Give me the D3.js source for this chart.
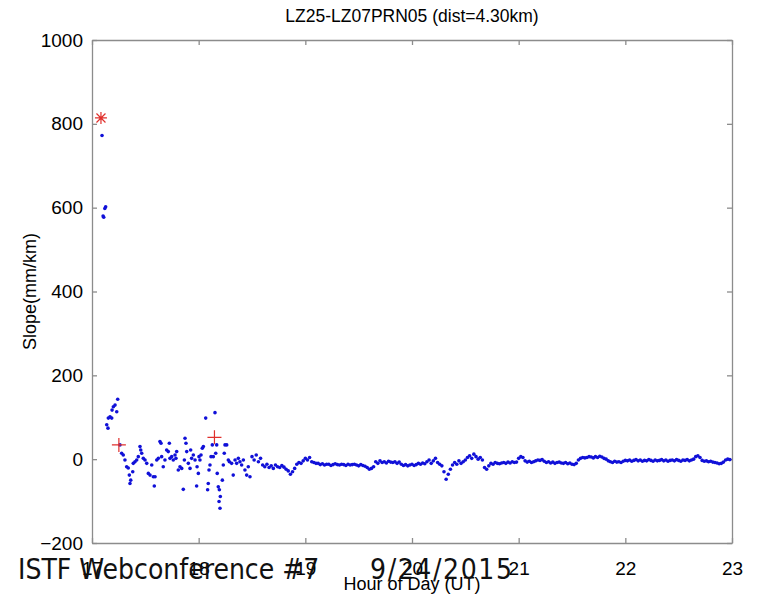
<!DOCTYPE html>
<html>
<head>
<meta charset="utf-8">
<script src="https://cdn.jsdelivr.net/npm/d3@7"></script>
<style>
  body { margin: 0; background: #fff; }
  svg { display: block; }
</style>
</head>
<body>
<div id="chart"></div>
<script>
// scattered samples at the start of the pass (hour, slope)
var earlyHours = [17.094, 17.104, 17.110, 17.120, 17.128,
    17.138, 17.150, 17.153, 17.169, 17.185, 17.188, 17.200, 17.216, 17.232, 17.241,
    17.262, 17.278, 17.293, 17.309, 17.325, 17.340, 17.350, 17.356, 17.363, 17.382,
    17.387, 17.403, 17.419, 17.434, 17.450, 17.457, 17.466, 17.481, 17.497, 17.513,
    17.528, 17.544, 17.560, 17.575, 17.584, 17.591, 17.607, 17.622, 17.637, 17.647,
    17.653, 17.668, 17.684, 17.700, 17.715, 17.725, 17.731, 17.747, 17.762, 17.778,
    17.787, 17.794, 17.809, 17.825, 17.841, 17.856, 17.866, 17.872, 17.881, 17.888,
    17.903, 17.919, 17.925, 17.934, 17.950, 17.966, 17.981, 17.985, 17.997, 18.003,
    18.012, 18.022, 18.034, 18.044, 18.066, 18.084, 18.090, 18.097, 18.106, 18.116,
    18.128, 18.137, 18.153, 18.160, 18.169, 18.174, 18.184, 18.191, 18.194, 18.200,
    18.203, 18.222, 18.231, 18.240, 18.247, 18.263, 18.278, 18.288, 18.309, 18.324,
    18.341, 18.356, 18.372, 18.387, 18.403, 18.419, 18.434, 18.450, 18.465, 18.481];
var earlySlopes = [772, 580, 577, 598, 602,
    82, 74, 98, 101, 98, 117, 125, 129, 113, 143,
    34, 14, 10, -2, -18, -21, -38, -58, -50, -30,
    -10, -6, -2, 6, 30, 22, 14, 2, -2, -10,
    -34, -38, -14, -42, -64, -42, -2, 2, 42, 38,
    6, -18, -2, 22, 18, 38, 2, 6, -2, 10,
    2, 18, -26, -18, -22, -72, -2, 50, 38, 18,
    -10, -22, 22, 2, 10, -2, -64, -18, -34, 6,
    -2, 10, 26, 30, 98, -73, -58, -26, -14, 6,
    34, 6, 111, 14, 34, -34, -66, -101, -73, -117,
    -89, -50, -14, 14, 34, 34, -2, -6, -10, -38,
    -2, -10, 2, -6, -14, -2, -26, -38, -18, -42];

// steady part of the pass
var lateHours = [
    18.50, 18.52, 18.54, 18.56, 18.58, 18.60, 18.62, 18.64, 18.66, 18.68,
    18.70, 18.72, 18.74, 18.76, 18.78, 18.80, 18.82, 18.84, 18.86, 18.88,
    18.90, 18.92, 18.94, 18.96, 18.98,
    19.00, 19.02, 19.04, 19.06, 19.08, 19.10, 19.12, 19.14, 19.16, 19.18,
    19.20, 19.22, 19.24, 19.26, 19.28, 19.30, 19.32, 19.34, 19.36, 19.38,
    19.40, 19.42, 19.44, 19.46, 19.48, 19.50, 19.52, 19.54, 19.56, 19.58,
    19.60, 19.62, 19.64, 19.66, 19.68, 19.70, 19.72, 19.74, 19.76, 19.78,
    19.80, 19.82, 19.84, 19.86, 19.88, 19.90, 19.92, 19.94, 19.96, 19.98,
    20.00, 20.02, 20.04, 20.06, 20.08, 20.10, 20.12, 20.14, 20.16, 20.18,
    20.20, 20.22, 20.24, 20.26, 20.28, 20.30, 20.32, 20.34, 20.36, 20.38,
    20.40, 20.42, 20.44, 20.46, 20.48, 20.50, 20.52, 20.54, 20.56, 20.58,
    20.60, 20.62, 20.64, 20.66, 20.68, 20.70, 20.72, 20.74, 20.76, 20.78,
    20.80, 20.82, 20.84, 20.86, 20.88, 20.90, 20.92, 20.94, 20.96, 20.98,
    21.00, 21.02, 21.04, 21.06, 21.08, 21.10, 21.12, 21.14, 21.16, 21.18,
    21.20, 21.22, 21.24, 21.26, 21.28, 21.30, 21.32, 21.34, 21.36, 21.38,
    21.40, 21.42, 21.44, 21.46, 21.48, 21.50, 21.52, 21.54, 21.56, 21.58,
    21.60, 21.62, 21.64, 21.66, 21.68, 21.70, 21.72, 21.74, 21.76, 21.78,
    21.80, 21.82, 21.84, 21.86, 21.88, 21.90, 21.92, 21.94, 21.96, 21.98,
    22.00, 22.02, 22.04, 22.06, 22.08, 22.10, 22.12, 22.14, 22.16, 22.18,
    22.20, 22.22, 22.24, 22.26, 22.28, 22.30, 22.32, 22.34, 22.36, 22.38,
    22.40, 22.42, 22.44, 22.46, 22.48, 22.50, 22.52, 22.54, 22.56, 22.58,
    22.60, 22.62, 22.64, 22.66, 22.68, 22.70, 22.72, 22.74, 22.76, 22.78,
    22.80, 22.82, 22.84, 22.86, 22.88, 22.90, 22.92, 22.94, 22.96, 22.98];
var lateSlopes = [
    6, -2, 10, -6, 2,
    -14, -18, -12, -20, -16, -22, -14, -18, -20, -15, -19, -24,
    -28, -36, -30, -22,
    -12, -8, -10, -4, 2, -2, 4, -6, -8, -10,
    -10, -13, -11, -14, -12, -12, -15, -13, -11, -13, -14, -12, -13, -15, -12, -14, -13, -12, -14, -16, -13, -15, -17,
    -20, -24, -22, -18,
    -6, -10, -4, -8, -6, -9, -5, -7, -8, -6, -10, -7,
    -12, -15, -13, -16, -14, -12, -15, -13, -10, -12, -9, -11,
    -6, -2, -10, -4, 2, -8, -12, -16,
    -30, -48, -36, -24,
    -14, -8, -12, -4, -10, -6, -2,
    4, 8, 2, 12, 6, 0, 4, -2,
    -20, -24, -16,
    -10, -12, -8, -10, -11, -9, -8, -10, -7, -9, -6, -8, -7,
    2, 6, 4,
    -4, -7, -5, -8, -6, -4,
    -2, -3, -1,
    -5, -8, -6, -9, -7, -10, -8, -7, -9, -10, -8, -11, -9,
    -12, -13, -10,
    -2, 2, 4, 3,
    4, 6, 5, 3, 6, 4, 7, 5, 2, 0,
    -4, -6, -8, -5, -7, -6,
    -8, -5, -3, -4, -2, -5, -3, -1, -4, -2, -5, -3, -4, -1, -3, -5, -2, -4, -3, -1, -4, -2, -5, -3, -2, -4, -1, -3, -5, -2, -3, -1, -4, -2, 0,
    6, 8, 4,
    -3, -5, -4, -6, -5, -7, -8,
    -9, -11, -10, -7,
    -2, 0, -1];

// flagged epochs (red markers)
var starHours = [17.084];
var starSlopes = [814];
var plusHours = [17.252, 18.148];
var plusSlopes = [34, 52];

var xTicks = [17, 18, 19, 20, 21, 22, 23];
var yTicks = [-200, 0, 200, 400, 600, 800, 1000];

function init(){

    var w = 759;
    var h = 594;
    var left = 92, right = 732, top = 40, bottom = 543;
    var font = "Liberation Sans, Arial, sans-serif";

    var xScale = d3.scaleLinear()
                    .domain([17, 23])
                    .range([left, right]);
    var yScale = d3.scaleLinear()
                    .domain([-200, 1000])
                    .range([bottom, top]);

    var svg = d3.select("#chart")
                .append("svg")
                .attr("width", w)
                .attr("height", h);

    var axisColor = "#8c8c8c";

    //frame with ticks on all four sides, pointing inwards
    var xAxisG = svg.append("g")
        .attr("transform", "translate(0," + bottom + ")")
        .call(d3.axisBottom(xScale).tickValues(xTicks).tickSizeInner(-5).tickSizeOuter(0).tickFormat(d3.format("d")))
        .call(styleAxis);
    svg.append("g")
        .attr("transform", "translate(0," + top + ")")
        .call(d3.axisTop(xScale).tickValues(xTicks).tickSizeInner(-5).tickSizeOuter(0).tickFormat(""))
        .call(styleAxis);
    var yAxisG = svg.append("g")
        .attr("transform", "translate(" + left + ",0)")
        .call(d3.axisLeft(yScale).tickValues(yTicks).tickSizeInner(-5).tickSizeOuter(0).tickFormat(d3.format("d")))
        .call(styleAxis);
    svg.append("g")
        .attr("transform", "translate(" + right + ",0)")
        .call(d3.axisRight(yScale).tickValues(yTicks).tickSizeInner(-5).tickSizeOuter(0).tickFormat(""))
        .call(styleAxis);

    function styleAxis(g) {
        g.select(".domain").attr("stroke", axisColor).attr("stroke-width", 1.3);
        g.selectAll(".tick line").attr("stroke", axisColor).attr("stroke-width", 1.3);
        g.selectAll(".tick text")
            .attr("fill", "#000")
            .attr("font-family", font)
            .attr("font-size", "19px");
    }
    xAxisG.selectAll(".tick text").attr("y", 32).attr("dy", 0);
    yAxisG.selectAll(".tick text").attr("x", -9);

    //blue samples
    var pts = [];
    earlyHours.forEach(function(d, i){ pts.push([d, earlySlopes[i]]); });
    lateHours.forEach(function(d, i){ pts.push([d, lateSlopes[i]]); });

    svg.append("g")
        .selectAll("circle")
        .data(pts)
        .enter()
        .append("circle")
        .attr("cx", function(d){ return xScale(d[0]); })
        .attr("cy", function(d){ return yScale(d[1]); })
        .attr("r", 1.8)
        .attr("fill", "#1010d8");

    //red markers
    var red = "#e0302c";
    svg.append("g").selectAll("path")
        .data(starHours)
        .enter()
        .append("path")
        .attr("d", function(d, i){
            var x = xScale(d), y = yScale(starSlopes[i]), s = 6, k = 4.5;
            return "M" + (x - s) + "," + y + "H" + (x + s) +
                   "M" + x + "," + (y - s) + "V" + (y + s) +
                   "M" + (x - k) + "," + (y - k) + "L" + (x + k) + "," + (y + k) +
                   "M" + (x - k) + "," + (y + k) + "L" + (x + k) + "," + (y - k);
        })
        .attr("stroke", red)
        .attr("stroke-width", 1.2)
        .attr("fill", "none");

    svg.append("g").selectAll("path")
        .data(plusHours)
        .enter()
        .append("path")
        .attr("d", function(d, i){
            var x = xScale(d), y = yScale(plusSlopes[i]), s = 7;
            return "M" + (x - s) + "," + y + "H" + (x + s) +
                   "M" + x + "," + (y - s) + "V" + (y + s);
        })
        .attr("stroke", red)
        .attr("stroke-width", 1.2)
        .attr("fill", "none");

    //title and axis labels
    svg.append("text")
        .attr("x", (left + right) / 2)
        .attr("y", 22)
        .attr("text-anchor", "middle")
        .attr("font-family", font)
        .attr("font-size", "17.5px")
        .text("LZ25-LZ07PRN05 (dist=4.30km)");

    svg.append("text")
        .attr("transform", "translate(36," + ((top + bottom) / 2) + ") rotate(-90)")
        .attr("text-anchor", "middle")
        .attr("font-family", font)
        .attr("font-size", "18px")
        .text("Slope(mm/km)");

    svg.append("text")
        .attr("x", (left + right) / 2)
        .attr("y", 590)
        .attr("text-anchor", "middle")
        .attr("font-family", font)
        .attr("font-size", "18px")
        .text("Hour of Day (UT)");

    //slide footer laid over the chart
    svg.append("text")
        .attr("x", 18)
        .attr("y", 579)
        .attr("font-family", "DejaVu Sans Condensed, DejaVu Sans, sans-serif")
        .attr("font-size", "28px")
        .attr("fill", "#111")
        .text("ISTF Webconference #7");
    svg.append("text")
        .attr("x", 370)
        .attr("y", 579)
        .attr("font-family", "DejaVu Sans Condensed, DejaVu Sans, sans-serif")
        .attr("font-size", "28px")
        .attr("fill", "#111")
        .attr("textLength", 142)
        .text("9/24/2015");
}

window.onload = init;
</script>
</body>
</html>
